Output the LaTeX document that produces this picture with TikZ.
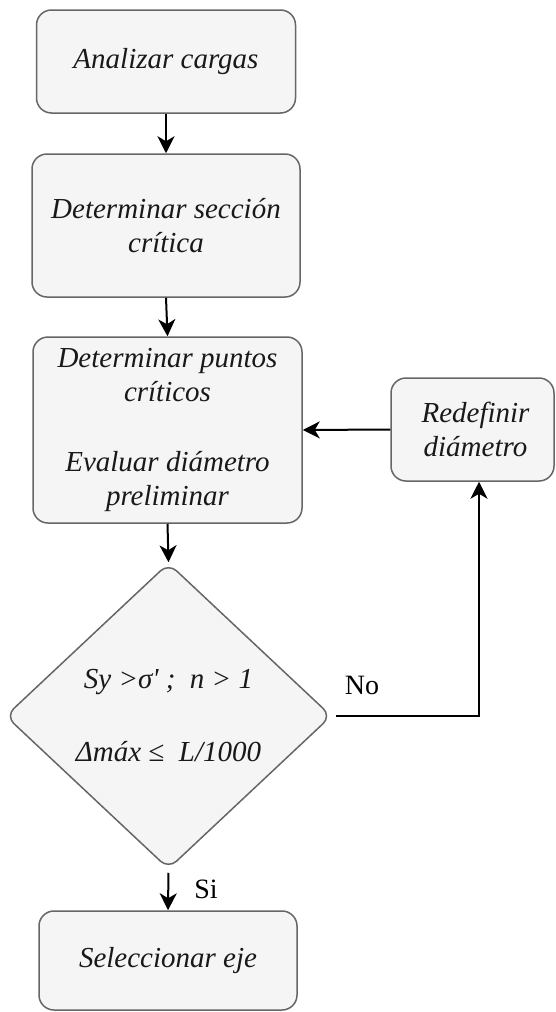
\documentclass[tikz,border=0pt]{standalone}
\usepackage{fontspec}
\setmainfont{Liberation Serif}
\usetikzlibrary{shapes.geometric,arrows.meta}
\definecolor{boxfill}{HTML}{F5F5F5}
\definecolor{boxline}{HTML}{666666}
\begin{document}
\begin{tikzpicture}[x=1pt,y=-1pt,
  box/.style={draw=boxline, fill=boxfill, line width=1.5pt, rounded corners=15pt,
    inner sep=0pt, align=center, text=black!90, font=\fontsize{29}{34}\selectfont\itshape},
  dec/.style={diamond, draw=boxline, fill=boxfill, line width=1.5pt, rounded corners=11pt,
    inner sep=0pt, aspect=1.065, align=center, text=black!90, font=\fontsize{29}{34}\selectfont\itshape},
  arr/.style={line width=2pt, -{Stealth[length=17pt,width=17pt,inset=5pt]}},
  lbl/.style={inner sep=0pt, font=\fontsize{28}{33}\selectfont}]
\useasboundingbox (0,0) rectangle (555,1012);

\node[box, minimum width=259pt, minimum height=103pt] (b1) at (166,61.5) {Analizar cargas};
\node[box, minimum width=268pt, minimum height=143pt] (b2) at (166,225.5) {Determinar sección\\crítica};
\node[box, minimum width=269pt, minimum height=186pt] (b3) at (167.5,430) {Determinar puntos\\críticos\\[36pt]Evaluar diámetro\\preliminar};
\node[box, minimum width=163pt, minimum height=103pt] (b4) at (472.5,429.5) {\hspace*{6pt}Redefinir\\\hspace*{6pt}diámetro};
\node[dec, minimum width=326pt, minimum height=306pt] (d) at (168.5,716) {Sy >σ\textquotesingle\ ;~~n > 1\\[39pt]Δmáx ≤~~L/1000};
\node[box, minimum width=258pt, minimum height=99pt] (b5) at (168,960.5) {Seleccionar eje};

\coordinate (c1) at (479,716);

\draw[arr] (b1.south) -- (b2.north);
\draw[arr] (b2.south) -- (b3.north);
\draw[arr] (b3.south) -- (d.north);
\draw[arr, shorten <=3pt] (d.south) -- (b5.north);
\draw[arr] (b4.west) -- (b3.east);
\draw[arr, shorten <=4pt] (d.east) -- (c1) -- (c1 |- b4.south);

\node[lbl] (si) at (206,889) {Si};
\node[lbl] (no) at (362,685) {No};
\end{tikzpicture}
\end{document}
